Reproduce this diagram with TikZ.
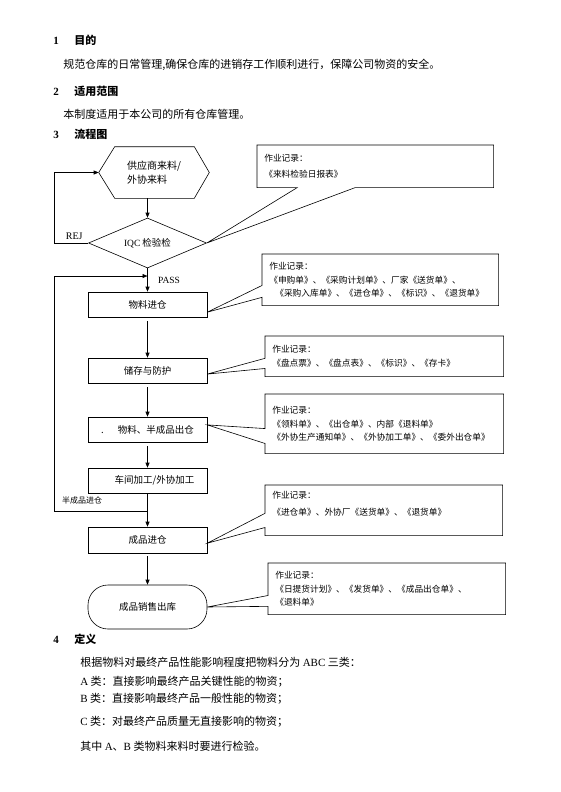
\documentclass[tikz,border=0pt]{standalone}
\usepackage{fontspec}
\setmainfont{Noto Sans CJK SC}
\newfontfamily\lat{Liberation Serif}
\usetikzlibrary{shapes.geometric,arrows.meta,calc}

\begin{document}
\begin{tikzpicture}[x=1pt,y=-1pt,line width=0.6pt,
  arr/.style={-{Triangle[length=5pt,width=4pt]}},
  txt/.style={anchor=base west,inner sep=0pt,font=\fontsize{11}{14}\selectfont},
  head/.style={anchor=base west,inner sep=0pt,font=\fontsize{11}{14}\selectfont\bfseries},
  box/.style={draw,minimum width=119pt,minimum height=25pt,inner sep=1pt,font=\fontsize{9.5}{12}\selectfont},
  note/.style={anchor=north west,align=left,inner xsep=7pt,inner ysep=0pt,font=\fontsize{8.7}{13.5}\selectfont}]
\useasboundingbox (0,0) rectangle (560,792);

\node[head] (n1) at (53,45) {\lat 1};
\node[head] (h1) at (74,45) {目的};
\node[txt] (p1) at (63,69) {规范仓库的日常管理,确保仓库的进销存工作顺利进行，保障公司物资的安全。};
\node[head] (n2) at (53,95) {\lat 2};
\node[head] (h2) at (74,95) {适用范围};
\node[txt] (p2) at (63,118) {本制度适用于本公司的所有仓库管理。};
\node[head] (n3) at (53,138) {\lat 3};
\node[head] (h3) at (74,138) {流程图};

\node[minimum width=110pt,minimum height=51pt,inner sep=0pt,align=left,font=\fontsize{10}{14.5}\selectfont] (supply) at (154,172.5) {供应商来料/\\外协来料};
\draw (supply.west) -- ($(supply.north west)+(16,0)$) -- ($(supply.north east)+(-15,0)$) -- (supply.east)
  -- ($(supply.south east)+(-15,0)$) -- ($(supply.south west)+(16,0)$) -- cycle;
\node[diamond,draw,aspect=2.36,minimum width=118pt,minimum height=50pt,inner sep=0pt,font=\fontsize{9.5}{12}\selectfont] (iqc) at (147.5,243) {{\lat IQC} 检验检};
\node[box] (in) at (147.5,304.5) {物料进仓};
\node[box] (store) at (147.5,370.5) {储存与防护};
\node[box] (out) at (147.5,429.5) {.\hspace{14pt}物料、半成品出仓\hspace{4pt}};
\node[box] (proc) at (147.5,480.5) {\hspace*{14pt}车间加工/外协加工};
\node[box,minimum height=26pt] (fin) at (147.5,540) {成品进仓};
\node[box,rounded corners=20pt,minimum height=44pt] (sale) at (147.5,607) {成品销售出库};

\draw[arr] (supply.south -| iqc.north) -- (iqc.north);
\draw[arr] (iqc.west) -- node[above,xshift=3pt,font=\lat\fontsize{10}{12}\selectfont] (rej) {REJ} ++(-34,0) |- (supply.west);
\draw[arr] (iqc.south) -- node[right,xshift=7pt,font=\lat\fontsize{9.5}{12}\selectfont] (pass) {PASS} (in.north);
\draw[arr,shorten <=4pt] (in.south) -- (store.north);
\draw[arr,shorten <=4pt] (store.south) -- (out.north);
\draw[arr,shorten <=4pt] (out.south) -- (proc.north);
\draw[arr] (proc.south) -- (fin.north);
\draw[arr,shorten <=3pt] (fin.south) -- (sale.north);
\coordinate (merge) at ($(proc.south)!0.55!(fin.north)$);
\coordinate (back) at ($(iqc.south)!0.33!(in.north)$);
\draw[arr] (merge) -- node[above,yshift=4pt,pos=0.7,font=\fontsize{8}{10}\selectfont] (semi) {半成品进仓} ++(-93.5,0) |- (back);

\node[note,minimum width=236pt,minimum height=42pt,text width=222pt] (rec1) at (257,145) {作业记录：\\[3pt]《来料检验日报表》};
\draw (rec1.north west) -- (rec1.north east) -- (rec1.south east) -- ($(rec1.south west)!0.415!(rec1.south east)$)
  -- (iqc.east) -- ($(rec1.south west)!0.17!(rec1.south east)$) -- (rec1.south west) -- cycle;
\node[note,minimum width=236pt,minimum height=51pt,text width=222pt] (rec2) at (262,254) {作业记录：\\《申购单》、《采购计划单》、厂家《送货单》、\\\hspace*{6pt}《采购入库单》、《进仓单》、《标识》、《退货单》};
\draw (rec2.north west) -- (rec2.north east) -- (rec2.south east) -- (rec2.south west) -- ($(rec2.north west)!0.84!(rec2.south west)$)
  -- ($(in.north east)!0.8!(in.south east)$) -- ($(rec2.north west)!0.61!(rec2.south west)$) -- cycle;
\node[note,minimum width=238pt,minimum height=40pt,text width=224pt] (rec3) at (265,336) {作业记录：\\《盘点票》、《盘点表》、《标识》、《存卡》};
\draw (rec3.north west) -- (rec3.north east) -- (rec3.south east) -- (rec3.south west) -- ($(rec3.north west)!0.8!(rec3.south west)$)
  -- ($(store.north east)!0.64!(store.south east)$) -- ($(rec3.north west)!0.55!(rec3.south west)$) -- cycle;
\node[note,minimum width=238pt,minimum height=59pt,text width=224pt] (rec4) at (265,394) {作业记录：\\《领料单》、《出仓单》、内部《退料单》\\《外协生产通知单》、《外协加工单》、《委外出仓单》};
\draw (rec4.north west) -- (rec4.north east) -- (rec4.south east) -- (rec4.south west) -- ($(rec4.north west)!0.83!(rec4.south west)$)
  -- ($(out.north east)!0.32!(out.south east)$) -- ($(rec4.north west)!0.58!(rec4.south west)$) -- cycle;
\node[note,minimum width=237pt,minimum height=50pt,text width=223pt] (rec5) at (265,485) {作业记录：\\[3.5pt]《进仓单》、外协厂《送货单》、《退货单》\\\mbox{}};
\draw (rec5.north west) -- (rec5.north east) -- (rec5.south east) -- (rec5.south west) -- ($(rec5.north west)!0.84!(rec5.south west)$)
  -- ($(fin.north east)!0.62!(fin.south east)$) -- ($(rec5.north west)!0.56!(rec5.south west)$) -- cycle;
\node[note,minimum width=237pt,minimum height=51pt,text width=223pt] (rec6) at (268,563) {作业记录：\\《日提货计划》、《发货单》、《成品出仓单》、\\《退料单》};
\draw (rec6.north west) -- (rec6.north east) -- (rec6.south east) -- (rec6.south west) -- ($(rec6.north west)!0.84!(rec6.south west)$)
  -- (sale.east) -- ($(rec6.north west)!0.63!(rec6.south west)$) -- cycle;

\node[head] (n4) at (53,643) {\lat 4};
\node[head] (h4) at (74,643) {定义};
\node[txt] (d1) at (80,666) {根据物料对最终产品性能影响程度把物料分为 {\lat ABC} 三类：};
\node[txt] (d2) at (80,685) {{\lat A} 类：直接影响最终产品关键性能的物资；};
\node[txt] (d3) at (80,702) {{\lat B} 类：直接影响最终产品一般性能的物资；};
\node[txt] (d4) at (80,725) {{\lat C} 类：对最终产品质量无直接影响的物资；};
\node[txt] (d5) at (80,750) {其中 {\lat A}、{\lat B} 类物料来料时要进行检验。};
\end{tikzpicture}
\end{document}
